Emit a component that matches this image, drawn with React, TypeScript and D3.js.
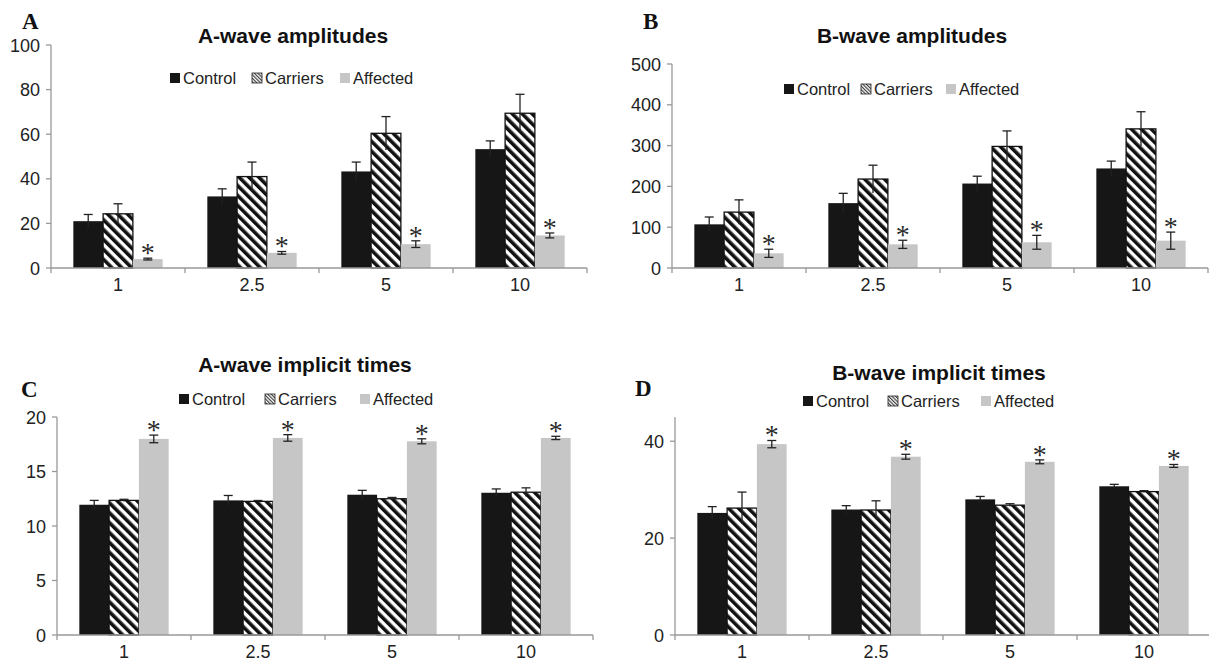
import * as d3 from "d3";
import React from "react";

// doses (cd.s/m2) and groups
const doses = ["1", "2.5", "5", "10"];
const groups = ["Control", "Carriers", "Affected"];

// A-wave amplitudes
const aAmpControl = [21, 32.1, 43.3, 53.3];
const aAmpControlErr = [3, 3.4, 4.2, 3.7];
const aAmpCarriers = [24.3, 41, 60.4, 69.4];
const aAmpCarriersErr = [4.5, 6.5, 7.5, 8.5];
const aAmpAffected = [4, 6.8, 10.7, 14.6];
const aAmpAffectedErr = [0.4, 0.6, 1.5, 1.1];

// B-wave amplitudes
const bAmpControl = [107, 159, 207, 244];
const bAmpControlErr = [18, 24, 18, 18];
const bAmpCarriers = [137, 218, 298, 341];
const bAmpCarriersErr = [30, 34, 38, 42];
const bAmpAffected = [36, 58, 63, 67];
const bAmpAffectedErr = [10, 10, 17, 21];

// A-wave implicit times
const aTimeControl = [11.95, 12.35, 12.87, 13.05];
const aTimeControlErr = [0.4, 0.45, 0.4, 0.35];
const aTimeCarriers = [12.35, 12.26, 12.5, 13.1];
const aTimeCarriersErr = [0.1, 0.08, 0.12, 0.4];
const aTimeAffected = [17.99, 18.08, 17.77, 18.08];
const aTimeAffectedErr = [0.35, 0.3, 0.23, 0.15];

// B-wave implicit times
const bTimeControl = [25.2, 25.9, 28.0, 30.7];
const bTimeControlErr = [1.3, 0.8, 0.6, 0.4];
const bTimeCarriers = [26.2, 25.8, 26.8, 29.6];
const bTimeCarriersErr = [3.3, 1.9, 0.3, 0.2];
const bTimeAffected = [39.4, 36.8, 35.75, 34.9];
const bTimeAffectedErr = [0.75, 0.5, 0.4, 0.3];

const aAmpTicks = [0, 20, 40, 60, 80, 100];
const bAmpTicks = [0, 100, 200, 300, 400, 500];
const aTimeTicks = [0, 5, 10, 15, 20];
const bTimeTicks = [0, 20, 40];

const panels = [
  {
    letter: "A", title: "A-wave amplitudes",
    values: [aAmpControl, aAmpCarriers, aAmpAffected],
    errs: [aAmpControlErr, aAmpCarriersErr, aAmpAffectedErr],
    ticks: aAmpTicks, yMax: 100,
    left: 51, right: 587, bottom: 268, top: 45,
    titleX: 293, titleY: 43, letterX: 22, letterY: 29,
    legendY: 78, legendX: [170, 252, 340],
  },
  {
    letter: "B", title: "B-wave amplitudes",
    values: [bAmpControl, bAmpCarriers, bAmpAffected],
    errs: [bAmpControlErr, bAmpCarriersErr, bAmpAffectedErr],
    ticks: bAmpTicks, yMax: 500,
    left: 672, right: 1208, bottom: 268, top: 64,
    titleX: 912, titleY: 43, letterX: 643, letterY: 29,
    legendY: 89, legendX: [784, 861, 946],
  },
  {
    letter: "C", title: "A-wave implicit times",
    values: [aTimeControl, aTimeCarriers, aTimeAffected],
    errs: [aTimeControlErr, aTimeCarriersErr, aTimeAffectedErr],
    ticks: aTimeTicks, yMax: 20,
    left: 57, right: 593, bottom: 635, top: 417,
    titleX: 305, titleY: 372, letterX: 21, letterY: 397,
    legendY: 399, legendX: [179, 265, 360],
  },
  {
    letter: "D", title: "B-wave implicit times",
    values: [bTimeControl, bTimeCarriers, bTimeAffected],
    errs: [bTimeControlErr, bTimeCarriersErr, bTimeAffectedErr],
    ticks: bTimeTicks, yMax: 45,
    left: 675, right: 1211, bottom: 635, top: 417,
    titleX: 939, titleY: 380, letterX: 635, letterY: 396,
    legendY: 401, legendX: [803, 888, 981],
  },
];

const fills = ["#161616", "url(#stripes)", "#c6c6c6"];
const sans = "'Liberation Sans', Arial, sans-serif";

const Panel = ({ p }) => {
  const x = d3.scaleBand(doses, [p.left, p.right]);
  const xi = d3.scaleBand(groups, [0, x.bandwidth()]).paddingOuter(0.75);
  const y = d3.scaleLinear([0, p.yMax], [p.bottom, p.top]);
  const bounds = [...doses.map(d => x(d)), p.right];

  return (
    <g>
      <text x={p.letterX} y={p.letterY} fontFamily="'Liberation Serif', serif" fontWeight="bold" fontSize={23} fill="#111">{p.letter}</text>
      <text x={p.titleX} y={p.titleY} textAnchor="middle" fontFamily={sans} fontWeight="bold" fontSize={21} fill="#111">{p.title}</text>

      {/* legend */}
      {groups.map((g, i) => (
        <g key={g}>
          <rect x={p.legendX[i]} y={p.legendY - 5} width={10} height={10}
            fill={i === 1 ? "url(#stripesSmall)" : fills[i]} stroke={i === 1 ? "#222" : "none"} strokeWidth={0.8} />
          <text x={p.legendX[i] + 13} y={p.legendY + 6} fontFamily={sans} fontSize={16.5} fill="#222">{g}</text>
        </g>
      ))}

      {/* y axis */}
      <line x1={p.left} x2={p.left} y1={p.bottom} y2={p.top} stroke="#999" strokeWidth={1.3} />
      {p.ticks.map(t => (
        <g key={t}>
          <line x1={p.left - 5} x2={p.left} y1={y(t)} y2={y(t)} stroke="#999" strokeWidth={1.3} />
          <text x={p.left - 11} y={y(t) + 6.5} textAnchor="end" fontFamily={sans} fontSize={18} fill="#222">{t}</text>
        </g>
      ))}

      {/* bars */}
      {groups.map((g, gi) => (
        <g key={g}>
          {doses.map((d, di) => {
            const v = p.values[gi][di];
            const e = p.errs[gi][di];
            const bx = x(d) + xi(g);
            const w = xi.bandwidth();
            const cx = bx + w / 2;
            return (
              <g key={d}>
                <rect x={bx} y={y(v)} width={w} height={p.bottom - y(v)} fill={fills[gi]}
                  stroke={gi === 1 ? "#111" : "none"} strokeWidth={1.3} />
                <line x1={cx} x2={cx} y1={y(v + e)} y2={y(v - e)} stroke="#222" strokeWidth={1.3} />
                <line x1={cx - 4.5} x2={cx + 4.5} y1={y(v + e)} y2={y(v + e)} stroke="#222" strokeWidth={1.3} />
                {gi === 2 && (
                  <>
                    <line x1={cx - 4.5} x2={cx + 4.5} y1={y(v - e)} y2={y(v - e)} stroke="#222" strokeWidth={1.3} />
                    <text x={cx} y={y(v + e) + 4} textAnchor="middle" fontFamily="'Liberation Serif', serif" fontSize={28} fill="#2a2a2a">*</text>
                  </>
                )}
              </g>
            );
          })}
        </g>
      ))}

      {/* x axis */}
      <line x1={p.left} x2={p.right} y1={p.bottom} y2={p.bottom} stroke="#999" strokeWidth={1.3} />
      {bounds.map((b, i) => (
        <line key={i} x1={b} x2={b} y1={p.bottom} y2={p.bottom + 5} stroke="#999" strokeWidth={1.3} />
      ))}
      {doses.map(d => (
        <text key={d} x={x(d) + x.bandwidth() / 2} y={p.bottom + 23} textAnchor="middle" fontFamily={sans} fontSize={18} fill="#222">{d}</text>
      ))}
    </g>
  );
};

export default function App() {
  return (
    <svg width={1209} height={664} style={{ position: "absolute", left: 0, top: 0, background: "#fff" }}>
      <defs>
        <pattern id="stripes" patternUnits="userSpaceOnUse" width={7} height={7} patternTransform="rotate(-45)">
          <rect width={7} height={7} fill="#fff" />
          <line x1={1.8} x2={1.8} y1={0} y2={7} stroke="#111" strokeWidth={3.6} />
        </pattern>
        <pattern id="stripesSmall" patternUnits="userSpaceOnUse" width={2.5} height={2.5} patternTransform="rotate(-45)">
          <rect width={2.5} height={2.5} fill="#fff" />
          <line x1={0.6} x2={0.6} y1={0} y2={2.5} stroke="#333" strokeWidth={1.1} />
        </pattern>
      </defs>
      {panels.map(p => <Panel key={p.letter} p={p} />)}
    </svg>
  );
}
